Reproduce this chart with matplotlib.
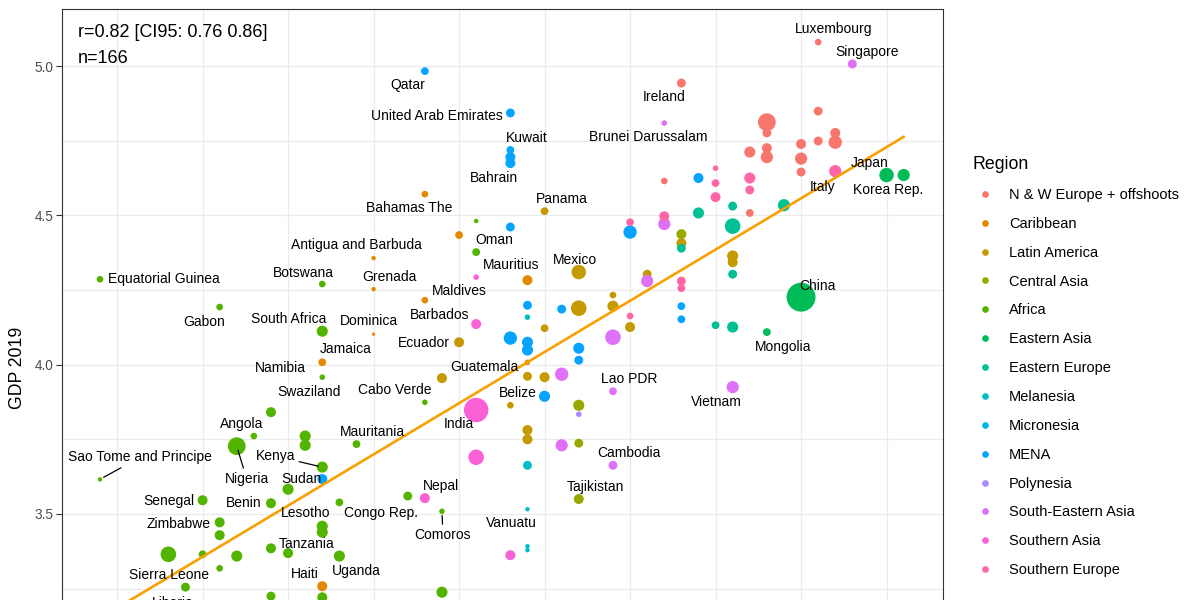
import numpy as np
import matplotlib
matplotlib.use("Agg")
import matplotlib.pyplot as plt
from matplotlib.lines import Line2D
from matplotlib.ticker import MultipleLocator

plt.rcParams['font.family'] = ['Liberation Sans', 'DejaVu Sans']

# Region order and ggplot hue colours
regions = ["N & W Europe + offshoots", "Caribbean", "Latin America", "Central Asia",
           "Africa", "Eastern Asia", "Eastern Europe", "Melanesia", "Micronesia",
           "MENA", "Polynesia", "South-Eastern Asia", "Southern Asia", "Southern Europe"]
region_colors = ["#F8766D", "#E38900", "#C49A00", "#99A800", "#53B400", "#00BC56",
                 "#00C094", "#00BFC4", "#00B6EB", "#06A4FF", "#A58AFF", "#DF70F8",
                 "#FB61D7", "#FF66A8"]

# Per-region points: (country, x, gdp, point size)
nw_europe = [("Luxembourg", 5.1, 5.080, 6), ("Ireland", 4.3, 4.943, 8), ("", 5.1, 4.849, 8),
             ("", 4.8, 4.812, 16), ("", 4.8, 4.776, 8), ("", 5.2, 4.776, 9), ("", 5.2, 4.745, 12),
             ("", 5.1, 4.749, 8), ("", 5.0, 4.739, 9), ("", 4.7, 4.712, 10), ("", 4.8, 4.725, 9),
             ("", 4.8, 4.695, 11), ("", 5.0, 4.690, 11), ("", 5.0, 4.645, 8), ("", 4.2, 4.615, 6),
             ("", 4.7, 4.508, 7)]
s_europe = [("Italy", 5.2, 4.648, 11), ("", 4.5, 4.658, 5), ("", 4.5, 4.608, 7), ("", 4.5, 4.561, 9),
            ("", 4.7, 4.625, 10), ("", 4.7, 4.585, 8), ("", 4.2, 4.497, 9), ("", 4.0, 4.477, 7),
            ("", 4.3, 4.280, 8), ("", 4.3, 4.256, 7), ("", 4.0, 4.163, 6)]
e_asia = [("Japan", 5.5, 4.635, 13), ("Korea Rep.", 5.6, 4.635, 11), ("China", 5.0, 4.226, 26),
          ("Mongolia", 4.8, 4.109, 7)]
e_europe = [("", 4.6, 4.531, 8), ("", 4.4, 4.508, 10), ("", 4.6, 4.464, 14), ("", 4.9, 4.534, 11),
            ("", 4.3, 4.390, 8), ("", 4.6, 4.303, 8), ("", 4.5, 4.132, 7), ("", 4.6, 4.126, 10)]
c_asia = [("", 4.3, 4.437, 9), ("", 3.7, 3.864, 10), ("", 3.7, 3.737, 8), ("Tajikistan", 3.7, 3.550, 9)]
latin = [("Panama", 3.5, 4.514, 7), ("Mexico", 3.7, 4.310, 13), ("", 3.9, 4.233, 6), ("", 3.9, 4.196, 10),
         ("", 3.7, 4.189, 14), ("", 3.5, 4.122, 7), ("", 4.0, 4.126, 9), ("", 4.1, 4.303, 8),
         ("Ecuador", 3.0, 4.075, 9), ("Guatemala", 3.4, 4.008, 5), ("", 3.4, 3.961, 8),
         ("", 3.5, 3.958, 9), ("", 2.9, 3.955, 9), ("Belize", 3.3, 3.864, 6), ("", 3.4, 3.781, 9),
         ("", 3.4, 3.750, 9), ("", 4.6, 4.364, 10), ("", 4.6, 4.343, 9), ("", 4.3, 4.407, 9)]
caribbean = [("Bahamas The", 2.8, 4.571, 6), ("", 3.0, 4.434, 7), ("Antigua and Barbuda", 2.5, 4.357, 4),
             ("Grenada", 2.5, 4.253, 4), ("", 3.4, 4.283, 9), ("Barbados", 2.8, 4.216, 6),
             ("Dominica", 2.5, 4.102, 3), ("Jamaica", 2.2, 4.008, 7), ("Haiti", 2.2, 3.258, 9)]
africa = [("Equatorial Guinea", 0.9, 4.286, 6), ("Gabon", 1.6, 4.193, 6), ("Botswana", 2.2, 4.270, 6),
          ("South Africa", 2.2, 4.112, 10), ("Namibia", 2.2, 3.958, 5), ("", 3.1, 4.481, 4),
          ("Mauritius", 3.1, 4.377, 7), ("Cabo Verde", 2.8, 3.874, 5), ("Swaziland", 1.9, 3.841, 9),
          ("Angola", 1.8, 3.761, 6), ("Nigeria", 1.7, 3.727, 16), ("", 2.1, 3.761, 10),
          ("", 2.1, 3.730, 10), ("Mauritania", 2.4, 3.734, 7), ("Kenya", 2.2, 3.657, 10),
          ("Sao Tome and Principe", 0.9, 3.616, 4), ("Senegal", 1.5, 3.546, 9), ("", 2.0, 3.583, 10),
          ("Benin", 1.9, 3.536, 9), ("Zimbabwe", 1.6, 3.472, 9), ("", 1.6, 3.429, 9),
          ("Lesotho", 2.2, 3.459, 10), ("", 2.2, 3.439, 10), ("Congo Rep.", 2.3, 3.539, 7),
          ("", 2.7, 3.560, 8), ("Comoros", 2.9, 3.509, 5), ("", 1.3, 3.365, 14), ("", 1.5, 3.365, 7),
          ("", 1.7, 3.359, 10), ("", 1.6, 3.318, 6), ("", 1.9, 3.385, 9), ("Tanzania", 2.0, 3.369, 9),
          ("Uganda", 2.3, 3.359, 10), ("Sierra Leone", 1.4, 3.255, 8), ("", 1.9, 3.225, 8),
          ("", 2.2, 3.221, 9), ("", 2.9, 3.238, 10), ("Liberia", 1.6, 3.155, 8)]
mena = [("Qatar", 2.8, 4.983, 7), ("United Arab Emirates", 3.3, 4.843, 8), ("Kuwait", 3.3, 4.719, 7),
        ("", 3.3, 4.695, 9), ("Bahrain", 3.3, 4.675, 9), ("Oman", 3.3, 4.461, 8), ("", 4.0, 4.444, 12),
        ("", 4.4, 4.625, 9), ("", 3.4, 4.199, 8), ("", 3.6, 4.186, 8), ("", 3.3, 4.089, 12),
        ("", 3.4, 4.075, 10), ("", 3.4, 4.049, 10), ("", 3.7, 4.055, 10), ("", 3.7, 4.015, 8),
        ("", 3.5, 3.894, 10), ("", 4.3, 4.196, 7), ("", 4.3, 4.152, 7), ("Sudan", 2.2, 3.617, 9)]
melanesia = [("", 3.4, 4.159, 5), ("", 3.4, 3.663, 8), ("Vanuatu", 3.4, 3.516, 4),
             ("", 3.4, 3.392, 4), ("", 3.4, 3.379, 4)]
polynesia = [("", 3.7, 3.834, 5)]
se_asia = [("Singapore", 5.3, 5.007, 8), ("Brunei Darussalam", 4.2, 4.809, 5), ("", 4.2, 4.471, 11),
           ("", 4.1, 4.280, 11), ("", 3.9, 4.092, 14), ("", 3.6, 3.968, 12), ("Lao PDR", 3.9, 3.911, 7),
           ("", 3.6, 3.730, 11), ("Cambodia", 3.9, 3.663, 8), ("Vietnam", 4.6, 3.925, 11)]
s_asia = [("Maldives", 3.1, 4.293, 5), ("", 3.1, 4.136, 9), ("India", 3.1, 3.848, 22),
          ("", 3.1, 3.690, 14), ("Nepal", 2.8, 3.553, 9), ("", 3.3, 3.362, 9)]

points_by_region = {
    "N & W Europe + offshoots": nw_europe, "Caribbean": caribbean, "Latin America": latin,
    "Central Asia": c_asia, "Africa": africa, "Eastern Asia": e_asia, "Eastern Europe": e_europe,
    "Melanesia": melanesia, "Micronesia": [], "MENA": mena, "Polynesia": polynesia,
    "South-Eastern Asia": se_asia, "Southern Asia": s_asia, "Southern Europe": s_europe,
}

# fitted line
fit_slope = 0.343
fit_intercept = 2.842
stats_text = ["r=0.82 [CI95: 0.76 0.86]", "n=166"]

# label placement (pixel offsets from point; ha)
label_pos = {
    "Luxembourg": (15, -13), "Ireland": (-17, 14), "Singapore": (15, -12),
    "Brunei Darussalam": (-16, 14), "Italy": (-13, 16), "Japan": (-17, -12),
    "Korea Rep.": (-16, 15), "China": (16, -11), "Mongolia": (16, 15), "Vietnam": (-16, 15),
    "Lao PDR": (16, -12), "Cambodia": (16, -12), "Tajikistan": (17, -12), "Belize": (7, -12),
    "India": (-17, 14), "Nepal": (16, -12), "Maldives": (-17, 14), "Mexico": (-4, -12),
    "Panama": (17, -12), "Qatar": (-17, 14), "United Arab Emirates": (-8, 3, 'right'),
    "Kuwait": (16, -12), "Bahrain": (-16, 15), "Oman": (-16, 13), "Bahamas The": (-16, 14),
    "Antigua and Barbuda": (-17, -13), "Grenada": (16, -12), "Barbados": (15, 15),
    "Dominica": (-5, -13), "Jamaica": (23, -13), "Haiti": (-17, -12), "Mauritius": (35, 13),
    "Ecuador": (-9, 1, 'right'), "Guatemala": (-9, 5, 'right'),
    "Equatorial Guinea": (8, 0, 'left'), "Gabon": (-16, 15), "Botswana": (-19, -11),
    "South Africa": (-34, -12), "Namibia": (-42, -9), "Cabo Verde": (-30, -12),
    "Swaziland": (38, -20), "Angola": (-12, -12), "Nigeria": (10, 33),
    "Sao Tome and Principe": (40, -22), "Kenya": (-47, -11), "Sudan": (-21, 0),
    "Mauritania": (16, -12), "Senegal": (-8, 1, 'right'), "Zimbabwe": (-9, 2, 'right'),
    "Benin": (-9, 0, 'right'), "Lesotho": (-17, -13), "Congo Rep.": (42, 11),
    "Comoros": (1, 24), "Vanuatu": (-16, 14), "Tanzania": (19, -9), "Uganda": (17, 15),
    "Sierra Leone": (-16, -12), "Liberia": (-47, -14),
}
leader = {"Nigeria", "Sao Tome and Principe", "Kenya", "Comoros"}

fig = plt.figure(figsize=(12, 6), dpi=100)
ax = fig.add_axes([62 / 1200, -40 / 600, 881 / 1200, 631 / 600])

all_x = []
for reg, col in zip(regions, region_colors):
    pts = points_by_region[reg]
    if not pts:
        continue
    xs = np.array([p[1] for p in pts])
    ys = np.array([p[2] for p in pts])
    sz = np.array([p[3] for p in pts])
    all_x.extend(xs)
    ax.scatter(xs, ys, s=(sz * 0.8) ** 2, color=col, edgecolors='none', zorder=3)

# regression line over data range
xx = np.array([min(all_x), max(all_x)])
ax.plot(xx, fit_intercept + fit_slope * xx, color='#F7A000', lw=1.9, zorder=4)

# country labels
for reg in regions:
    for name, x, y, _ in points_by_region[reg]:
        if not name:
            continue
        pos = label_pos[name]
        ha = pos[2] if len(pos) > 2 else 'center'
        kw = {}
        if name in leader:
            kw['arrowprops'] = dict(arrowstyle='-', color='black', lw=0.9, shrinkA=1, shrinkB=3)
        ax.annotate(name, xy=(x, y), xytext=(pos[0] * 0.72, -pos[1] * 0.72),
                    textcoords='offset points', ha=ha, va='center', fontsize=10,
                    color='black', zorder=5, **kw)

ax.text(0.018, 0.9556, stats_text[0], transform=ax.transAxes, fontsize=13, va='baseline')
ax.text(0.018, 0.9144, stats_text[1], transform=ax.transAxes, fontsize=13, va='baseline')

ax.set_xlim(0.678, 5.830)
ax.set_ylim(3.078, 5.191)
ax.xaxis.set_major_locator(MultipleLocator(1.0))
ax.xaxis.set_minor_locator(MultipleLocator(0.5))
ax.yaxis.set_major_locator(MultipleLocator(0.5))
ax.yaxis.set_minor_locator(MultipleLocator(0.25))
ax.grid(True, which='both', color='#EBEBEB', lw=0.9, zorder=0)
ax.set_axisbelow(True)
ax.tick_params(axis='x', which='both', length=0, labelbottom=False)
ax.tick_params(axis='y', which='major', length=4, width=0.8, color='#333333',
               labelsize=9.8, labelcolor='#4D4D4D', pad=2)
ax.tick_params(axis='y', which='minor', length=0)
ax.yaxis.set_major_formatter(matplotlib.ticker.FormatStrFormatter('%.1f'))
for sp in ax.spines.values():
    sp.set_color('#333333')
    sp.set_linewidth(0.8)
ax.set_ylabel('GDP 2019', fontsize=12.7)
ax.yaxis.set_label_coords(-36 / 881, (640 - 368) / 631)

handles = [Line2D([], [], marker='o', linestyle='', color=c, markersize=3.8) for c in region_colors]
leg = fig.legend(handles, regions, loc='upper left', bbox_to_anchor=(972 / 1200, 1 - 156 / 600),
                 frameon=False, fontsize=10.5, title='Region', title_fontsize=12.8,
                 alignment='left', borderpad=0, borderaxespad=0, handlelength=1.78,
                 handletextpad=0.75, labelspacing=1.02)

fig.savefig('out.png', dpi=100)
